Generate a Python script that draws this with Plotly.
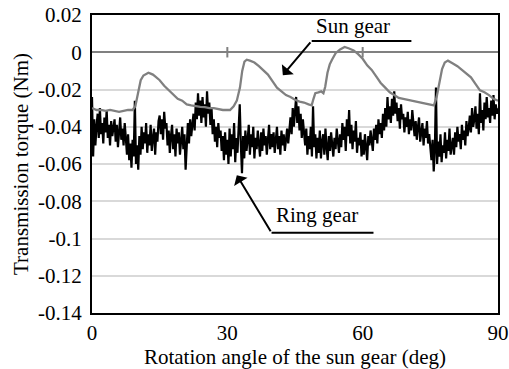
import numpy as np
import plotly.graph_objects as go

# ---------------- data ----------------
sun_angle = [0, 1, 2, 3, 4, 5, 6, 7, 8, 9, 9.6, 10.2, 10.8, 11.4, 12, 12.5, 13, 13.5, 14,
             15, 16, 17, 18, 19, 20, 21, 22, 23, 24, 25, 26, 27, 28, 29, 30, 30.6, 31.4,
             32.1, 32.8, 33.3, 33.8, 34.3, 35, 36, 37, 38, 39, 40, 41, 42, 43, 44, 45, 46,
             47, 48, 48.7, 49.1, 49.5, 50.2, 50.8, 51.3, 51.7, 52.2, 52.7, 53.2, 54, 55,
             56, 57, 58, 59, 60, 61, 62, 63, 64, 65, 66, 67, 68, 69, 70, 71, 72, 73, 74,
             75, 75.8, 76.4, 77, 77.6, 78.2, 78.9, 80, 81, 82, 83, 84, 85, 86, 87, 88, 89, 90]
sun_torque = [-0.030, -0.031, -0.031, -0.0315, -0.031, -0.0315, -0.032, -0.0315, -0.031,
              -0.031, -0.029, -0.022, -0.015, -0.0125, -0.0115, -0.011, -0.0115, -0.012,
              -0.013, -0.015, -0.018, -0.0205, -0.023, -0.025, -0.026, -0.028, -0.0285,
              -0.029, -0.0293, -0.0295, -0.030, -0.030, -0.0305, -0.031, -0.031, -0.031,
              -0.029, -0.026, -0.019, -0.010, -0.005, -0.004, -0.0045, -0.0055, -0.0075,
              -0.0095, -0.012, -0.0155, -0.019, -0.021, -0.023, -0.024, -0.0255, -0.0265,
              -0.027, -0.028, -0.0285, -0.025, -0.022, -0.0215, -0.021, -0.022, -0.0185,
              -0.011, -0.0065, -0.004, -0.0005, 0.0015, 0.0028, 0.002, 0.001, -0.001,
              -0.0035, -0.007, -0.0095, -0.013, -0.0165, -0.019, -0.0215, -0.023, -0.0245,
              -0.025, -0.0255, -0.026, -0.0265, -0.027, -0.0275, -0.028, -0.0285, -0.024,
              -0.016, -0.009, -0.0055, -0.0045, -0.006, -0.0075, -0.0095, -0.0115, -0.0135,
              -0.017, -0.0205, -0.0215, -0.023, -0.025, -0.026]

ring_step_deg = 0.25
ring_torque = [
    -0.024, -0.056, -0.036, -0.050, -0.040, -0.033, -0.046, -0.030, -0.044, -0.038, -0.049, -0.035, -0.043, -0.031, -0.046, -0.039, -0.050, -0.037, -0.045, -0.040,
    -0.036, -0.048, -0.039, -0.051, -0.042, -0.035, -0.047, -0.041, -0.050, -0.038, -0.046, -0.055, -0.044, -0.058, -0.049, -0.062, -0.047, -0.056, -0.026, -0.060,
    -0.050, -0.063, -0.045, -0.055, -0.040, -0.052, -0.043, -0.049, -0.038, -0.054, -0.044, -0.050, -0.039, -0.053, -0.046, -0.041, -0.055, -0.043, -0.048, -0.037,
    -0.034, -0.044, -0.036, -0.047, -0.032, -0.041, -0.038, -0.050, -0.042, -0.054, -0.045, -0.039, -0.052, -0.044, -0.056, -0.041, -0.049, -0.043, -0.055, -0.046,
    -0.040, -0.052, -0.044, -0.063, -0.047, -0.038, -0.049, -0.036, -0.045, -0.039, -0.033, -0.042, -0.027, -0.036, -0.022, -0.034, -0.026, -0.038, -0.024, -0.035,
    -0.028, -0.040, -0.021, -0.033, -0.027, -0.039, -0.030, -0.044, -0.036, -0.048, -0.040, -0.051, -0.038, -0.046, -0.042, -0.053, -0.045, -0.058, -0.043, -0.055,
    -0.047, -0.060, -0.041, -0.056, -0.044, -0.052, -0.038, -0.059, -0.046, -0.054, -0.040, -0.028, -0.050, -0.065, -0.045, -0.057, -0.042, -0.053, -0.047, -0.039,
    -0.055, -0.044, -0.051, -0.040, -0.057, -0.046, -0.052, -0.042, -0.049, -0.056, -0.043, -0.053, -0.041, -0.050, -0.045, -0.055, -0.047, -0.039, -0.052, -0.044,
    -0.051, -0.043, -0.054, -0.046, -0.040, -0.052, -0.045, -0.055, -0.042, -0.050, -0.044, -0.053, -0.047, -0.041, -0.049, -0.043, -0.035, -0.044, -0.030, -0.040,
    -0.032, -0.024, -0.038, -0.029, -0.042, -0.033, -0.046, -0.036, -0.043, -0.050, -0.041, -0.055, -0.045, -0.052, -0.040, -0.056, -0.029, -0.051, -0.044, -0.057,
    -0.046, -0.054, -0.042, -0.057, -0.048, -0.044, -0.055, -0.041, -0.051, -0.058, -0.045, -0.053, -0.043, -0.050, -0.056, -0.046, -0.052, -0.041, -0.049, -0.054,
    -0.044, -0.051, -0.038, -0.047, -0.040, -0.053, -0.036, -0.045, -0.031, -0.049, -0.039, -0.052, -0.042, -0.048, -0.037, -0.054, -0.046, -0.050, -0.043, -0.056,
    -0.047, -0.055, -0.044, -0.051, -0.058, -0.045, -0.050, -0.042, -0.048, -0.053, -0.041, -0.047, -0.039, -0.049, -0.036, -0.044, -0.038, -0.046, -0.033, -0.042,
    -0.030, -0.040, -0.024, -0.036, -0.029, -0.038, -0.025, -0.034, -0.021, -0.033, -0.027, -0.037, -0.030, -0.041, -0.028, -0.036, -0.033, -0.043, -0.035, -0.040,
    -0.032, -0.044, -0.036, -0.042, -0.031, -0.039, -0.045, -0.037, -0.047, -0.040, -0.035, -0.048, -0.043, -0.038, -0.050, -0.041, -0.046, -0.037, -0.049, -0.044,
    -0.051, -0.058, -0.047, -0.064, -0.053, -0.019, -0.060, -0.048, -0.056, -0.044, -0.059, -0.050, -0.054, -0.043, -0.057, -0.047, -0.053, -0.041, -0.055, -0.049,
    -0.046, -0.055, -0.043, -0.051, -0.040, -0.048, -0.044, -0.052, -0.039, -0.047, -0.042, -0.050, -0.037, -0.045, -0.041, -0.034, -0.043, -0.030, -0.040, -0.036,
    -0.029, -0.041, -0.033, -0.044, -0.022, -0.038, -0.031, -0.042, -0.027, -0.036, -0.024, -0.035, -0.030, -0.038, -0.026, -0.034, -0.023, -0.036, -0.028, -0.033,
    -0.030,
]
ring_angle = list(np.arange(len(ring_torque)) * ring_step_deg)

y_tick_vals = [-0.14, -0.12, -0.1, -0.08, -0.06, -0.04, -0.02, 0, 0.02]
y_tick_text = ["-0.14", "-0.12", "-0.1", "-0.08", "-0.06", "-0.04", "-0.02", "0", "0.02"]
x_tick_vals = [0, 30, 60, 90]
x_tick_text = ["0", "30", "60", "90"]

FONT = "Liberation Serif, Times New Roman, DejaVu Serif, serif"

fig = go.Figure()
fig.add_trace(go.Scatter(x=ring_angle, y=ring_torque, mode="lines",
                         line=dict(color="black", width=2.2), name="Ring gear",
                         showlegend=False))
fig.add_trace(go.Scatter(x=sun_angle, y=sun_torque, mode="lines",
                         line=dict(color="#808080", width=2.3), name="Sun gear",
                         showlegend=False))

# small tick marks crossing the zero line
for xv in [30, 60]:
    fig.add_shape(type="line", xref="x", yref="y", x0=xv, x1=xv, y0=-0.0028, y1=0.0028,
                  line=dict(color="#808080", width=2), layer="below")

# annotation underline / leader lines
fig.add_shape(type="line", xref="x", yref="y", x0=48.7, x1=70.8, y0=0.0061, y1=0.0061,
              line=dict(color="black", width=2))
fig.add_shape(type="line", xref="x", yref="y", x0=39.8, x1=62.4, y0=-0.0969, y1=-0.0969,
              line=dict(color="black", width=2))

fig.add_annotation(x=42.3, y=-0.0123, ax=48.7, ay=0.0061, xref="x", yref="y",
                   axref="x", ayref="y", text="", showarrow=True, arrowhead=1,
                   arrowsize=1.3, arrowwidth=2, arrowcolor="black")
fig.add_annotation(x=32.1, y=-0.066, ax=39.8, ay=-0.0969, xref="x", yref="y",
                   axref="x", ayref="y", text="", showarrow=True, arrowhead=1,
                   arrowsize=1.3, arrowwidth=2, arrowcolor="black")
fig.add_annotation(x=57.9, y=0.0139, xref="x", yref="y", text="Sun gear",
                   showarrow=False, font=dict(family=FONT, size=21, color="black"))
fig.add_annotation(x=49.9, y=-0.0874, xref="x", yref="y", text="Ring gear",
                   showarrow=False, font=dict(family=FONT, size=21, color="black"))

fig.update_layout(
    width=509, height=369,
    margin=dict(l=92, r=11, t=15, b=56, autoexpand=False),
    paper_bgcolor="white", plot_bgcolor="white",
    font=dict(family=FONT, size=20, color="black"),
    xaxis=dict(range=[0, 90], tickvals=x_tick_vals, ticktext=x_tick_text,
               showgrid=False, zeroline=False, showline=True, linecolor="black",
               linewidth=2, mirror=True, ticks="", ticklabelstandoff=0,
               automargin=False,
               tickfont=dict(family=FONT, size=21),
               title=dict(text="Rotation angle of the sun gear (deg)", standoff=3,
                          font=dict(family=FONT, size=21))),
    yaxis=dict(range=[-0.14, 0.02], tickvals=y_tick_vals, ticktext=y_tick_text,
               showgrid=True, gridcolor="#d9d9d9", gridwidth=2,
               zeroline=True, zerolinecolor="#808080", zerolinewidth=2,
               showline=True, linecolor="black", linewidth=2, mirror=True,
               ticks="", ticklabelstandoff=4, automargin=False,
               tickfont=dict(family=FONT, size=21),
               title=dict(text="Transmission torque (Nm)", standoff=4,
                          font=dict(family=FONT, size=21))),
)

fig.write_html("out.html", config={"displayModeBar": False},
               post_script="document.body.style.margin='0';document.body.style.padding='0';"
                           "document.body.style.overflow='hidden';")
